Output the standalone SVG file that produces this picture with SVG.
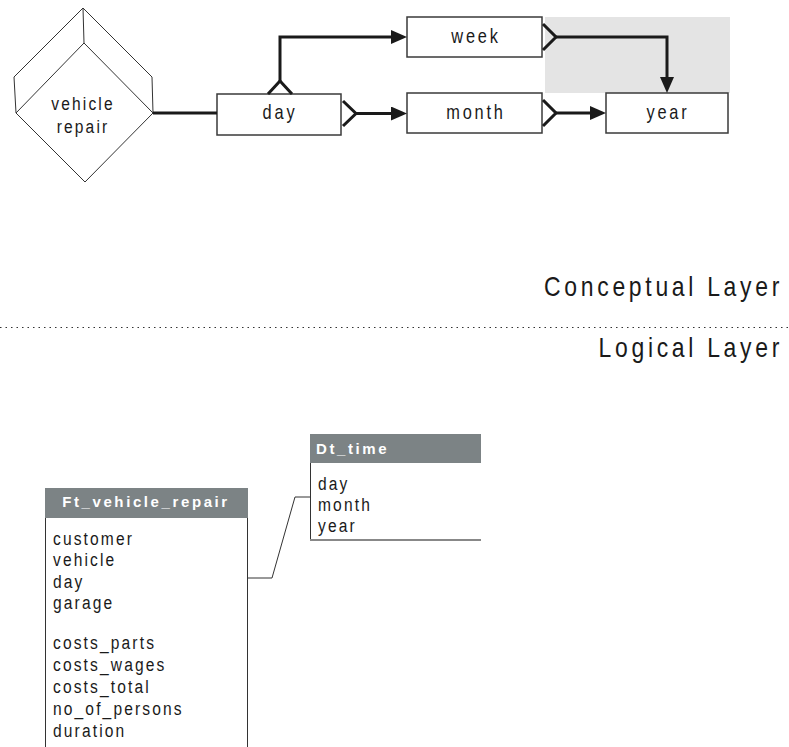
<svg xmlns="http://www.w3.org/2000/svg" width="789" height="747" viewBox="0 0 789 747">
<defs>
<style>
.t{font-family:"Liberation Sans",Arial,sans-serif;fill:#1a1a1a}
.box{font-size:20px;letter-spacing:3.4px;text-anchor:middle}
.row{font-size:19px;letter-spacing:2.6px}
.layer{font-size:28px;letter-spacing:4.5px;text-anchor:end}
.hdr{font-family:"Liberation Sans",Arial,sans-serif;font-size:15px;font-weight:bold;letter-spacing:2.6px;fill:#ffffff}
.ent{fill:#ffffff;stroke:#3a3a3a;stroke-width:1.5}
.thick{fill:none;stroke:#1a1a1a;stroke-width:3}
.thin{fill:none;stroke:#333333;stroke-width:1}
.hbar{fill:#7c8385}
</style>
<marker id="arr" viewBox="0 0 16 14" refX="6" refY="7" markerWidth="16" markerHeight="14" orient="auto" markerUnits="userSpaceOnUse">
<path d="M0,0 L16,7 L0,14 z" fill="#1a1a1a"/>
</marker>
</defs>
<rect width="789" height="747" fill="#ffffff"/>
<rect x="545" y="17" width="185" height="76" fill="#e4e4e4"/>

<g id="vehicle_repair">
<path d="M83,8 L152,77 L153,113 L85,182 L16,113 L14,77 Z" fill="#ffffff" stroke="#333" stroke-width="1"/>
<path d="M83,8 L84,43 M16,113 L84,43 L153,113" fill="none" stroke="#333" stroke-width="1"/>
<text class="t row" transform="translate(83 110) scale(0.82 1)" text-anchor="middle">vehicle</text>
<text class="t row" transform="translate(83 133) scale(0.82 1)" text-anchor="middle">repair</text>
</g>

<g id="day">
<rect class="ent" x="217" y="94" width="124" height="41"/>
<text class="t box" transform="translate(280 119) scale(0.82 1)">day</text>
</g>
<g id="week">
<rect class="ent" x="407" y="17" width="135" height="40"/>
<text class="t box" transform="translate(476 43) scale(0.82 1)">week</text>
</g>
<g id="month">
<rect class="ent" x="407" y="93" width="135" height="40"/>
<text class="t box" transform="translate(476 119) scale(0.82 1)">month</text>
</g>
<g id="year">
<rect class="ent" x="606" y="93" width="122" height="40"/>
<text class="t box" transform="translate(668 119) scale(0.82 1)">year</text>
</g>

<g id="connectors">
<line class="thick" x1="153" y1="113" x2="217" y2="113"/>
<polyline class="thick" points="268,94 280,81 292,94"/>
<path class="thick" d="M280,81 V37 H397" marker-end="url(#arr)"/>
<polyline class="thick" points="343,101 356,113.5 343,126"/>
<path class="thick" d="M356,113.5 H397" marker-end="url(#arr)"/>
<polyline class="thick" points="543,100 556,113 543,126"/>
<path class="thick" d="M556,113 H596" marker-end="url(#arr)"/>
<polyline class="thick" points="543,24 556,37 543,50"/>
<path class="thick" d="M556,37 H667 V83" marker-end="url(#arr)"/>
<polyline class="thin" points="248,578 272,578 295,497 310,497"/>
</g>

<g id="layers">
<text class="t layer" transform="translate(783 296) scale(0.82 1)">Conceptual Layer</text>
<line x1="0" y1="327.5" x2="789" y2="327.5" stroke="#333" stroke-width="1" stroke-dasharray="1.5 4"/>
<text class="t layer" transform="translate(783 357) scale(0.82 1)">Logical Layer</text>
</g>

<g id="Dt_time">
<rect class="hbar" x="310" y="434" width="171" height="29"/>
<line x1="310.5" y1="463" x2="310.5" y2="540" stroke="#333" stroke-width="1"/>
<line x1="310" y1="540" x2="481" y2="540" stroke="#888" stroke-width="2"/>
<text class="hdr" x="316" y="454">Dt_time</text>
<text class="t row" transform="translate(318 490) scale(0.82 1)">day</text>
<text class="t row" transform="translate(318 511) scale(0.82 1)">month</text>
<text class="t row" transform="translate(318 532) scale(0.82 1)">year</text>
</g>

<g id="Ft_vehicle_repair">
<rect class="hbar" x="45" y="488" width="203" height="30"/>
<line x1="45.5" y1="518" x2="45.5" y2="747" stroke="#333" stroke-width="1"/>
<line x1="247.5" y1="518" x2="247.5" y2="747" stroke="#333" stroke-width="1"/>
<text class="hdr" x="146" y="507" text-anchor="middle">Ft_vehicle_repair</text>
<text class="t row" transform="translate(53 544.5) scale(0.82 1)">customer</text>
<text class="t row" transform="translate(53 566) scale(0.82 1)">vehicle</text>
<text class="t row" transform="translate(53 587.5) scale(0.82 1)">day</text>
<text class="t row" transform="translate(53 609) scale(0.82 1)">garage</text>
<text class="t row" transform="translate(53 649) scale(0.82 1)">costs_parts</text>
<text class="t row" transform="translate(53 671) scale(0.82 1)">costs_wages</text>
<text class="t row" transform="translate(53 693) scale(0.82 1)">costs_total</text>
<text class="t row" transform="translate(53 715) scale(0.82 1)">no_of_persons</text>
<text class="t row" transform="translate(53 737) scale(0.82 1)">duration</text>
</g>
</svg>
